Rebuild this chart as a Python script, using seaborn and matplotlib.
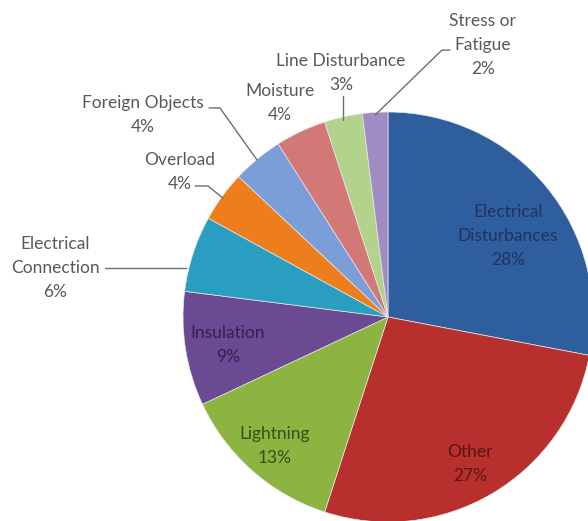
import matplotlib
matplotlib.use('Agg')
import matplotlib.pyplot as plt
import seaborn as sns

# Data
causes = ['Electrical\nDisturbances', 'Other', 'Lightning', 'Insulation',
          'Electrical\nConnection', 'Overload', 'Foreign Objects', 'Moisture',
          'Line Disturbance', 'Stress or\nFatigue']
shares = [28, 27, 13, 9, 6, 4, 4, 4, 3, 2]
slice_colors = ['#2F5E9F', '#B8302E', '#8DB340', '#6B4A94', '#2A9EC0',
                '#EE7D1E', '#7B9ED8', '#D27876', '#B3D38D', '#A08CC2']

sns.set_style('white')
plt.rcParams['font.family'] = ['Lato', 'DejaVu Sans']

fig = plt.figure(figsize=(5.88, 5.21), dpi=100)
ax = fig.add_axes([0, 0, 1, 1])

wedges, _ = ax.pie(shares, colors=slice_colors, startangle=90, counterclock=False,
                   wedgeprops=dict(edgecolor='#e8e8e8', linewidth=0.5))

# pixel-based frame: centre at (388, 317), radius 205 px
ax.set_xlim(-388 / 205, 200 / 205)
ax.set_ylim(-204 / 205, 317 / 205)
ax.axis('off')

labels = [f'{c}\n{s}%' for c, s in zip(causes, shares)]


def put_label(x, y, text, color):
    # one text per line, ~24 px apart, block centred on (x, y)
    lines = text.split('\n')
    n = len(lines)
    for k, line in enumerate(lines):
        off = ((n - 1) / 2 - k) * 24 * 0.72
        ax.annotate(line, (x, y), xytext=(0, off), textcoords='offset points',
                    ha='center', va='center', fontsize=12.5, color=color)


# inside labels
inside = {0: ((0.585, 0.395), '#1D3461'),
          1: ((0.40, -0.717), '#5A1614'),
          2: ((-0.551, -0.629), '#35501A'),
          3: ((-0.78, -0.137), '#34204F')}
for i, ((x, y), col) in inside.items():
    put_label(x, y, labels[i], col)

# outside labels with leader lines
grey = '#595959'
outside = {4: ((-1.624, 0.239), [(-1.38, 0.239), (-0.985, 0.239)]),
           5: ((-1.015, 0.707), [(-0.941, 0.639), (-0.878, 0.639), (-0.805, 0.58)]),
           6: ((-1.195, 0.985), [(-0.873, 1.02), (-0.82, 1.02), (-0.639, 0.766)]),
           7: ((-0.527, 1.044), []),
           8: ((-0.229, 1.19), [(-0.22, 1.078), (-0.22, 0.961)]),
           9: ((0.463, 1.327), [(0.302, 1.302), (0.263, 1.302), (-0.063, 0.985)])}
for i, ((x, y), path) in outside.items():
    put_label(x, y, labels[i], grey)
    if path:
        ax.plot([p[0] for p in path], [p[1] for p in path], color='#6e6e6e', lw=1)

plt.savefig('out.png', dpi=100)
